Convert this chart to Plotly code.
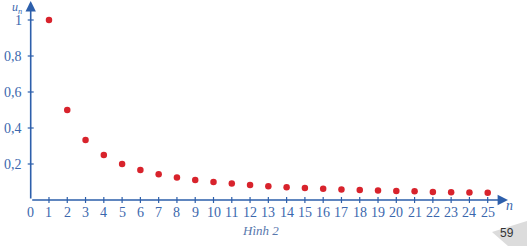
import plotly.graph_objects as go

n_values = list(range(1, 26))
u_values = [1.0, 0.5, 0.333, 0.25, 0.2, 0.167, 0.143, 0.125, 0.111, 0.1,
            0.091, 0.083, 0.077, 0.071, 0.067, 0.0625, 0.059, 0.056, 0.053, 0.05,
            0.048, 0.045, 0.043, 0.042, 0.04]
x_ticks = list(range(0, 26))
x_tick_labels = [str(v) for v in x_ticks]
y_ticks = [0.2, 0.4, 0.6, 0.8, 1.0]
y_tick_labels = ["0,2", "0,4", "0,6", "0,8", "1"]
caption = "Hình 2"
page_number = "59"

AXIS = "#2d5fab"
TXT = "#3b67ad"
RED = "#d8232c"
FONT = "Liberation Serif"

W, H = 527, 246
x0px, xs = 30.7, 18.28
y0px, ys = 200.0, 180.0
xr = [-x0px / xs, (W - x0px) / xs]
yr = [(y0px - H) / ys, y0px / ys]

fig = go.Figure()
fig.add_trace(go.Scatter(x=n_values, y=u_values, mode="markers",
                         marker=dict(color=RED, size=6.5), hoverinfo="skip"))

shapes = []
for t in x_ticks[1:]:
    shapes.append(dict(type="line", xref="x", yref="y", x0=t, x1=t,
                       ysizemode="pixel", yanchor=0, y0=-3, y1=3,
                       line=dict(color=AXIS, width=1.2)))
for t in y_ticks:
    shapes.append(dict(type="line", xref="x", yref="y", y0=t, y1=t,
                       xsizemode="pixel", xanchor=0, x0=-3, x1=3,
                       line=dict(color=AXIS, width=1.2)))
shapes.append(dict(type="path", xref="paper", yref="paper",
                   path="M %f %f L 1 %f L 1 0 L %f 0 Z" % (
                       492 / W, 1 - 232 / H, 1 - 221 / H, 508 / W),
                   fillcolor="#dcdcdc", line=dict(width=0)))

annotations = []
x_end = (508 - x0px) / xs
y_end = (y0px - 1.0) / ys
annotations.append(dict(x=x_end, y=0, ax=0, ay=0, xref="x", yref="y",
                        axref="x", ayref="y", showarrow=True, arrowhead=2,
                        arrowsize=1.3, arrowwidth=1.6, arrowcolor=AXIS, text=""))
annotations.append(dict(x=0, y=y_end, ax=0, ay=0, xref="x", yref="y",
                        axref="x", ayref="y", showarrow=True, arrowhead=2,
                        arrowsize=1.3, arrowwidth=1.6, arrowcolor=AXIS, text=""))
for t, lab in zip(x_ticks, x_tick_labels):
    annotations.append(dict(x=t, y=(y0px - 212.5) / ys, xref="x", yref="y",
                            text=lab, showarrow=False, xanchor="center", yanchor="middle",
                            font=dict(family=FONT, size=14, color=TXT)))
for t, lab in zip(y_ticks, y_tick_labels):
    annotations.append(dict(x=(24 - x0px) / xs, y=t, xref="x", yref="y",
                            text=lab, showarrow=False, xanchor="right", yanchor="middle",
                            font=dict(family=FONT, size=14, color=TXT)))
annotations.append(dict(x=17 / W, y=1 - 8 / H, xref="paper", yref="paper",
                        text="<i>u<sub>n</sub></i>", showarrow=False,
                        xanchor="center", yanchor="middle",
                        font=dict(family=FONT, size=12, color=TXT)))
annotations.append(dict(x=509 / W, y=1 - 205 / H, xref="paper", yref="paper",
                        text="<i>n</i>", showarrow=False,
                        xanchor="center", yanchor="middle",
                        font=dict(family=FONT, size=14, color=TXT)))
annotations.append(dict(x=260 / W, y=1 - 230 / H, xref="paper", yref="paper",
                        text="<i>" + caption + "</i>", showarrow=False,
                        xanchor="center", yanchor="middle",
                        font=dict(family=FONT, size=13, color="#5877ad")))
annotations.append(dict(x=507 / W, y=1 - 233 / H, xref="paper", yref="paper",
                        text=page_number, showarrow=False,
                        xanchor="center", yanchor="middle",
                        font=dict(family="Liberation Sans", size=12, color="#333333")))

fig.update_layout(
    width=W, height=H, margin=dict(l=0, r=0, t=0, b=0),
    paper_bgcolor="white", plot_bgcolor="white", showlegend=False,
    xaxis=dict(range=xr, visible=False, fixedrange=True),
    yaxis=dict(range=yr, visible=False, fixedrange=True),
    shapes=shapes, annotations=annotations,
)
fig.write_html("out.html", config={"displayModeBar": False})
